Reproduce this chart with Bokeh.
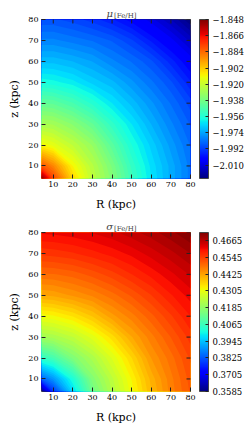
import numpy as np
from bokeh.plotting import figure
from bokeh.models import (Range1d, FixedTicker, ColorBar, LinearColorMapper,
                          CustomJSTickFormatter, Label)
from bokeh.layouts import column
from bokeh.embed import file_html
from bokeh.resources import INLINE

# grid nodes (kpc)
R_kpc = [4, 10, 20, 30, 40, 50, 60, 70, 80]
z_kpc = [4, 10, 20, 30, 40, 50, 60, 70, 80]

# mean metallicity, rows = z, columns = R
mu_feh = [
    [-1.848, -1.876, -1.904, -1.922, -1.935, -1.950, -1.963, -1.973, -1.982],
    [-1.879, -1.889, -1.910, -1.924, -1.937, -1.952, -1.964, -1.973, -1.982],
    [-1.910, -1.914, -1.922, -1.931, -1.944, -1.957, -1.967, -1.976, -1.984],
    [-1.927, -1.928, -1.934, -1.942, -1.953, -1.963, -1.972, -1.980, -1.987],
    [-1.942, -1.943, -1.948, -1.955, -1.963, -1.970, -1.977, -1.984, -1.991],
    [-1.958, -1.959, -1.962, -1.967, -1.971, -1.977, -1.983, -1.989, -1.998],
    [-1.970, -1.970, -1.972, -1.975, -1.980, -1.984, -1.989, -1.997, -2.005],
    [-1.980, -1.980, -1.982, -1.984, -1.987, -1.992, -1.999, -2.006, -2.014],
    [-1.989, -1.989, -1.991, -1.994, -1.998, -2.003, -2.009, -2.016, -2.025],
]

# metallicity dispersion, rows = z, columns = R
sigma_feh = [
    [0.3585, 0.3783, 0.3972, 0.4136, 0.4230, 0.4316, 0.4399, 0.4466, 0.4518],
    [0.3834, 0.3895, 0.4022, 0.4163, 0.4244, 0.4326, 0.4408, 0.4470, 0.4523],
    [0.4050, 0.4078, 0.4159, 0.4219, 0.4289, 0.4362, 0.4439, 0.4487, 0.4537],
    [0.4207, 0.4217, 0.4248, 0.4296, 0.4353, 0.4418, 0.4469, 0.4515, 0.4561],
    [0.4314, 0.4321, 0.4345, 0.4383, 0.4431, 0.4468, 0.4508, 0.4549, 0.4590],
    [0.4419, 0.4424, 0.4442, 0.4461, 0.4487, 0.4518, 0.4552, 0.4588, 0.4618],
    [0.4492, 0.4494, 0.4504, 0.4522, 0.4544, 0.4571, 0.4597, 0.4623, 0.4650],
    [0.4558, 0.4561, 0.4569, 0.4583, 0.4598, 0.4615, 0.4637, 0.4660, 0.4685],
    [0.4613, 0.4614, 0.4621, 0.4630, 0.4642, 0.4659, 0.4677, 0.4699, 0.4723],
]

axis_ticks = [10, 20, 30, 40, 50, 60, 70, 80]
mu_ticks = [-2.010, -1.992, -1.974, -1.956, -1.938, -1.920, -1.902, -1.884, -1.866, -1.848]
sigma_ticks = [0.3585, 0.3705, 0.3825, 0.3945, 0.4065, 0.4185, 0.4305, 0.4425, 0.4545, 0.4665]

x_label = "R (kpc)"
y_label = "z (kpc)"

R_MIN, R_MAX = 4, 80
Z_MIN, Z_MAX = 4, 80

SERIF = "DejaVu Serif"
EDGE = "#444444"
TICK = "#222222"
N_LEVELS = 60


def jet(t):
    r = np.interp(t, [0, 0.35, 0.66, 0.89, 1], [0, 0, 1, 1, 0.5])
    g = np.interp(t, [0, 0.125, 0.375, 0.64, 0.91, 1], [0, 0, 1, 1, 0, 0])
    b = np.interp(t, [0, 0.11, 0.34, 0.65, 1], [0.5, 1, 1, 0, 0])
    return "#%02x%02x%02x" % (int(round(r * 255)), int(round(g * 255)), int(round(b * 255)))


JET = [jet(i / 255.0) for i in range(256)]


def panel(values, ticks, digits, symbol, border_top, border_bottom):
    zz = np.array(values, dtype=float)
    xs = np.array(R_kpc, dtype=float)
    ys = np.array(z_kpc, dtype=float)
    lo, hi = float(zz.min()), float(zz.max())
    levels = np.linspace(lo, hi, N_LEVELS + 1)
    top = hi + 1e-9
    xc = (R_MIN + R_MAX) / 2
    yc = (Z_MIN + Z_MAX) / 2

    p = figure(frame_width=149, frame_height=159,
               x_range=Range1d(R_MIN, R_MAX), y_range=Range1d(Z_MIN, Z_MAX),
               output_backend="svg", toolbar_location=None,
               min_border_left=41, min_border_top=border_top, min_border_right=62,
               min_border_bottom=border_bottom)
    p.background_fill_color = "white"
    p.border_fill_color = "white"
    p.outline_line_color = EDGE
    p.outline_line_width = 1
    p.grid.visible = False

    # filled contours drawn as nested regions (z >= level), low to high, so no seams show
    for i in range(N_LEVELS):
        mid = 0.5 * (levels[i] + levels[i + 1])
        colour = jet((mid - lo) / (hi - lo))
        start = levels[i] - 1e-9 if i == 0 else levels[i]
        p.contour(xs, ys, zz, levels=[start, top], fill_color=colour, line_color=None)

    xa = p.below[0]
    ya = p.left[0]
    for ax in (xa, ya):
        ax.ticker = FixedTicker(ticks=axis_ticks)
        ax.major_tick_in = 4
        ax.major_tick_out = 0
        ax.minor_tick_line_color = None
        ax.axis_line_color = None
        ax.major_tick_line_color = TICK
        ax.major_label_text_font = SERIF
        ax.major_label_text_font_size = "8px"
        ax.major_label_text_color = "black"
        ax.major_label_standoff = 3

    # axis titles, placed in the side panels
    p.add_layout(Label(x=xc, y=Z_MIN, y_offset=-26, text=x_label,
                       text_font=SERIF, text_font_size="11px", text_color="black",
                       text_align="center", text_baseline="alphabetic"), "below")
    p.add_layout(Label(x=R_MIN, y=yc, x_offset=-27, text=y_label, angle=np.pi / 2,
                       text_font=SERIF, text_font_size="11px", text_color="black",
                       text_align="center", text_baseline="middle"), "left")

    # inward ticks on the top and right edges of the frame
    p.scatter(x=axis_ticks, y=[Z_MAX] * len(axis_ticks), marker="dash", angle=np.pi / 2,
              size=8, line_color=TICK, line_width=1)
    p.scatter(x=[R_MAX] * len(axis_ticks), y=axis_ticks, marker="dash",
              size=8, line_color=TICK, line_width=1)

    mapper = LinearColorMapper(palette=JET, low=lo, high=hi)
    fmt = CustomJSTickFormatter(code="return tick.toFixed(%d).replace('-', '\u2212');" % digits)
    cb = ColorBar(color_mapper=mapper, ticker=FixedTicker(ticks=ticks), formatter=fmt,
                  width=9, height=159, padding=0, margin=0, label_standoff=4,
                  location=(9, 0),
                  major_tick_in=3, major_tick_out=0, major_tick_line_color=TICK,
                  minor_tick_line_color=None,
                  major_label_text_font=SERIF, major_label_text_font_size="8.5px",
                  major_label_text_color="black",
                  bar_line_color=EDGE, bar_line_width=1,
                  border_line_color=None, background_fill_color=None)
    p.add_layout(cb, "right")

    # title: symbol with the [Fe/H] subscript, placed in the panel above the frame
    p.add_layout(Label(x=xc, y=Z_MAX, x_offset=-3, y_offset=6, text=symbol,
                       text_font=SERIF, text_font_size="10px", text_font_style="italic",
                       text_align="right", text_baseline="alphabetic"), "above")
    p.add_layout(Label(x=xc, y=Z_MAX, x_offset=-2, y_offset=4, text="[Fe/H]",
                       text_font=SERIF, text_font_size="7px",
                       text_align="left", text_baseline="alphabetic"), "above")
    return p


p1 = panel(mu_feh, mu_ticks, 3, "\u03bc", 19, 44)
p2 = panel(sigma_feh, sigma_ticks, 4, "\u03c3", 11, 36)
p2.margin = (-9, 0, 0, 0)

layout = column(p1, p2, spacing=0)
open("out.html", "w").write(file_html(layout, INLINE))
